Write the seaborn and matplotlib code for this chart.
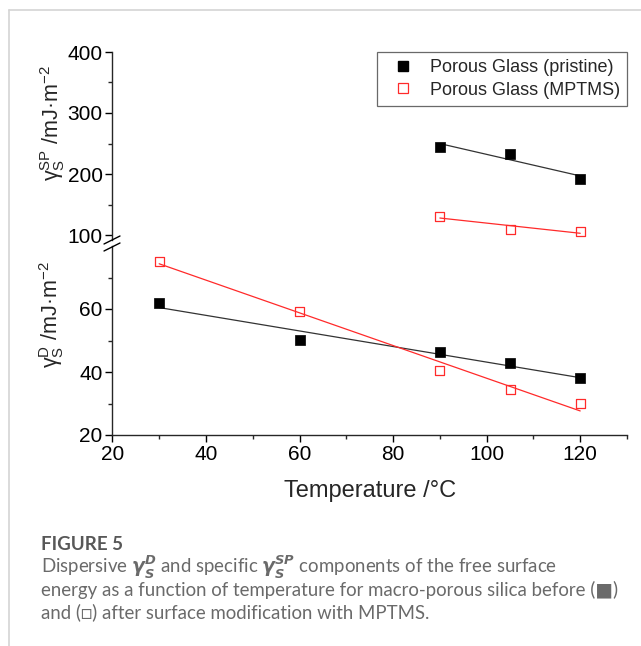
import seaborn as sns
import pandas as pd
import numpy as np
import matplotlib.pyplot as plt
from matplotlib.lines import Line2D

# data
temp_d = [30, 60, 90, 105, 120]
pristine_d = [62.0, 50.2, 46.2, 42.8, 38.0]
mptms_d = [75.2, 59.1, 40.5, 34.5, 30.1]

temp_sp = [90, 105, 120]
pristine_sp = [245, 233, 192]
mptms_sp = [131, 109, 106]

labels = ['Porous Glass (pristine)', 'Porous Glass (MPTMS)']
red = '#ff2a2a'

sns.set_style('ticks')
plt.rcParams['font.family'] = ['Liberation Sans', 'DejaVu Sans']
plt.rcParams['mathtext.fontset'] = 'custom'
plt.rcParams['mathtext.rm'] = 'Liberation Sans'

W, H = 641, 646
fig = plt.figure(figsize=(W / 100, H / 100), dpi=100)

def box(x0, y0, x1, y1):
    # pixel box (top-left origin) -> figure fraction
    return [x0 / W, 1 - y1 / H, (x1 - x0) / W, (y1 - y0) / H]

ax_top = fig.add_axes(box(112.4, 52, 627, 240))
ax_bot = fig.add_axes(box(112.4, 246, 627, 435))

# lower panel: dispersive
sns.regplot(x=temp_d, y=pristine_d, ax=ax_bot, ci=None, scatter=False,
            line_kws=dict(color='#333333', lw=0.9))
sns.regplot(x=temp_d, y=mptms_d, ax=ax_bot, ci=None, scatter=False,
            line_kws=dict(color=red, lw=0.9))
sns.scatterplot(x=temp_d, y=pristine_d, ax=ax_bot, marker='s', s=42,
                color='black', edgecolor='black', linewidth=0.5, zorder=3)
ax_bot.scatter(temp_d, mptms_d, marker='s', s=42, facecolor='none',
               edgecolor=red, linewidth=0.9, zorder=3)

# upper panel: specific
sns.regplot(x=temp_sp, y=pristine_sp, ax=ax_top, ci=None, scatter=False,
            line_kws=dict(color='#333333', lw=0.9))
sns.regplot(x=temp_sp, y=mptms_sp, ax=ax_top, ci=None, scatter=False,
            line_kws=dict(color=red, lw=0.9))
sns.scatterplot(x=temp_sp, y=pristine_sp, ax=ax_top, marker='s', s=42,
                color='black', edgecolor='black', linewidth=0.5, zorder=3)
ax_top.scatter(temp_sp, mptms_sp, marker='s', s=42, facecolor='none',
               edgecolor=red, linewidth=0.9, zorder=3)

for ax in (ax_top, ax_bot):
    ax.set_xlim(20, 130)
    ax.set_xlabel('')
    ax.set_ylabel('')
    for s in ('top', 'right'):
        ax.spines[s].set_visible(False)
    ax.spines['left'].set_linewidth(1.0)
    ax.spines['bottom'].set_linewidth(1.0)
    ax.tick_params(which='major', direction='out', length=5, width=1,
                   labelsize=15, colors='black', pad=2)
    ax.tick_params(which='minor', direction='out', length=3, width=1)

ax_bot.set_ylim(20, 80)
ax_bot.set_yticks([20, 40, 60])
ax_bot.set_yticks([30, 50, 70], minor=True)
ax_bot.set_xticks([20, 40, 60, 80, 100, 120])
ax_bot.set_xticks([30, 50, 70, 90, 110, 130], minor=True)
ax_bot.set_xlabel('Temperature /°C', fontsize=17, labelpad=12)

ax_top.set_ylim(400 - 188 / 0.61, 400)
ax_top.set_yticks([100, 200, 300, 400])
ax_top.set_yticks([150, 250, 350], minor=True)
ax_top.spines['bottom'].set_visible(False)
ax_top.tick_params(axis='x', which='both', bottom=False, labelbottom=False)

# y labels
fig.text(53 / W, 1 - 123 / H,
         'γ$_\\mathregular{S}^\\mathregular{SP}$ /mJ·m$^\\mathregular{-2}$',
         rotation=90, ha='center', va='center', fontsize=15.5)
fig.text(52 / W, 1 - 315 / H,
         'γ$_\\mathregular{S}^\\mathregular{D}$ /mJ·m$^\\mathregular{-2}$',
         rotation=90, ha='center', va='center', fontsize=15.5)

# axis break marks
for yb in (244, 251):
    fig.add_artist(Line2D([104 / W, 120 / W], [1 - yb / H, 1 - (yb - 8) / H],
                          color='black', lw=1.0))

# legend
handles = [
    Line2D([], [], ls='none', marker='s', ms=6.5, mfc='black', mec='black'),
    Line2D([], [], ls='none', marker='s', ms=6.5, mfc='none', mec=red, mew=0.9),
]
leg = ax_top.legend(handles, labels, loc='upper right', bbox_to_anchor=(1, 1),
                    borderaxespad=0, fontsize=13, frameon=True, fancybox=False,
                    handlelength=2.0, handletextpad=0.5, borderpad=0.4,
                    labelspacing=0.3)
leg.get_frame().set_edgecolor('#444444')
leg.get_frame().set_linewidth(0.9)

# card border
fig.add_artist(Line2D([8.5 / W, 1], [1 - 9.5 / H, 1 - 9.5 / H], color='#d4d4d4', lw=1.2))
fig.add_artist(Line2D([8.5 / W, 8.5 / W], [0, 1 - 9.5 / H], color='#d4d4d4', lw=1.2))

# caption
cap = ['Lato', 'DejaVu Sans']
fig.text(41 / W, 1 - 544 / H, 'FIGURE 5', fontsize=13.5, fontweight='bold',
         color='#585858', family=cap, va='center')
lines = [
    'Dispersive $\\boldsymbol{\\gamma}_\\boldsymbol{S}^\\boldsymbol{D}$ and specific '
    '$\\boldsymbol{\\gamma}_\\boldsymbol{S}^\\boldsymbol{SP}$ components of the free surface',
    'energy as a function of temperature for macro-porous silica before (■)',
    'and (□) after surface modification with MPTMS.',
]
for i, t in enumerate(lines):
    fig.text(41 / W, 1 - (567 + 22.5 * i) / H, t, fontsize=13.4, color='#6a6a6a',
             family=cap, va='center')

fig.savefig('out.png', dpi=100)
